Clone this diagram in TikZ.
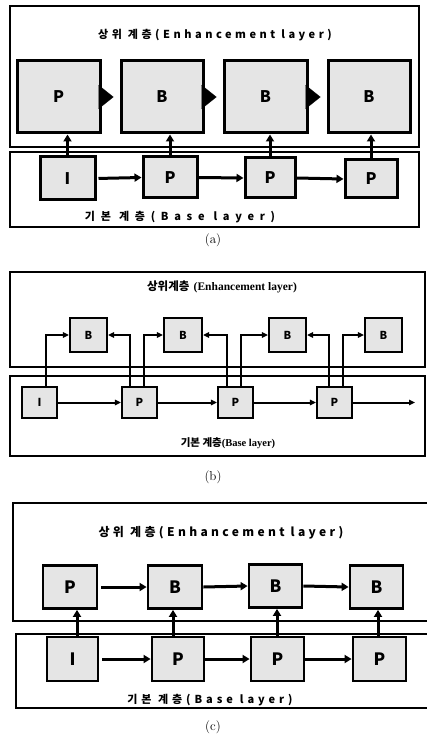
\documentclass[tikz,border=0pt]{standalone}
\usepackage{fontspec}
\newfontfamily\kr{Noto Sans CJK KR}
\newfontfamily\serb{Liberation Serif}
\usetikzlibrary{arrows.meta,calc}
\tikzset{
  frame/.style={draw, line width=1.4pt},
  boxa/.style={draw, line width=3pt, fill=gray!20, inner sep=0pt, font=\kr\bfseries\fontsize{16}{16}\selectfont},
  boxb/.style={draw, line width=2.2pt, fill=gray!20, inner sep=0pt, font=\kr\bfseries\fontsize{11}{11}\selectfont},
  boxc/.style={draw, line width=2.8pt, fill=gray!20, inner sep=0pt, font=\kr\bfseries\fontsize{17}{17}\selectfont},
  arr/.style={line width=3pt, -{Triangle[length=7pt,width=8pt]}},
  arrb/.style={line width=2pt, -{Triangle[length=6pt,width=5.5pt]}},
  bigtri/.style={line width=0.1pt, -{Triangle[length=15pt,width=24pt]}, shorten >=6pt},
  captext/.style={font=\fontsize{13}{13}\selectfont},
}
\begin{document}
\begin{tikzpicture}[x=1pt,y=-1pt]
\useasboundingbox (0,0) rectangle (426,743);
\fill[white] (0,0) rectangle (426,743);

% ---------- (a) ----------
\draw[frame] (10,6) rectangle (419,147);
\draw[frame] (10,152) rectangle (419,227);
\node[font=\kr\bfseries\fontsize{11}{11}\selectfont\addfontfeature{LetterSpace=32}] (ta) at (215,35) {상위 계층(Enhancement layer)};
\node[boxa, minimum width=83, minimum height=72] (ua1) at (58.5,97) {P};
\node[boxa, minimum width=82, minimum height=72] (ua2) at (162,97) {B};
\node[boxa, minimum width=83, minimum height=72] (ua3) at (265.5,97) {B};
\node[boxa, minimum width=82, minimum height=72] (ua4) at (369,97) {B};
\node[boxa, minimum width=55, minimum height=43] (la0) at (67.5,178.5) {I};
\node[boxa, minimum width=54, minimum height=41] (la1) at (170,177.5) {P};
\node[boxa, minimum width=50, minimum height=40] (la2) at (270,178) {P};
\node[boxa, minimum width=52, minimum height=38] (la3) at (371,179) {P};
\draw[bigtri] (ua1.east) -- (ua2.west);
\draw[bigtri] (ua2.east) -- (ua3.west);
\draw[bigtri] (ua3.east) -- (ua4.west);
\draw[arr] (la0.north) -- (la0.north |- ua1.south);
\draw[arr] (la1.north) -- (la1.north |- ua2.south);
\draw[arr] (la2.north) -- (la2.north |- ua3.south);
\draw[arr] (la3.north) -- (la3.north |- ua4.south);
\draw[arr, shorten <=2pt] (la0.east) -- (la1.west);
\draw[arr] (la1.east) -- (la2.west);
\draw[arr] (la2.east) -- (la3.west);
\node[font=\kr\bfseries\fontsize{11}{11}\selectfont\addfontfeature{LetterSpace=52}] (ba) at (180,217) {기본 계층(Base\kern9pt layer)};
\node[captext] (capa) at (213,240) {(a)};

% ---------- (b) ----------
\draw[frame] (10,272) rectangle (425,367);
\draw[frame] (10,376) rectangle (425,456);
\node[font=\fontsize{11.5}{11.5}\selectfont\bfseries] (tb) at (222,287) {{\kr 상위계층} {\serb\bfseries (Enhancement layer)}};
\node[boxb, minimum width=37, minimum height=34] (ub1) at (88.5,335) {B};
\node[boxb, minimum width=38, minimum height=34] (ub2) at (183,335) {B};
\node[boxb, minimum width=37, minimum height=34] (ub3) at (287.5,335) {B};
\node[boxb, minimum width=37, minimum height=34] (ub4) at (383.5,335) {B};
\node[boxb, minimum width=35, minimum height=31] (lb0) at (39.5,402.5) {I};
\node[boxb, minimum width=35, minimum height=31] (lb1) at (139.5,402.5) {P};
\node[boxb, minimum width=35, minimum height=31] (lb2) at (235.5,402.5) {P};
\node[boxb, minimum width=35, minimum height=31] (lb3) at (334.5,402.5) {P};
\coordinate (endb) at (415,402.5);
\draw[arrb] (lb0.east) -- (lb1.west);
\draw[arrb] (lb1.east) -- (lb2.west);
\draw[arrb] (lb2.east) -- (lb3.west);
\draw[arrb] (lb3.east) -- (endb);
\draw[arrb] ([xshift=6.5pt]lb0.north) |- (ub1.west);
\draw[arrb] ([xshift=-9.5pt]lb1.north) |- (ub1.east);
\draw[arrb] ([xshift=4.5pt]lb1.north) |- (ub2.west);
\draw[arrb] ([xshift=-8.5pt]lb2.north) |- (ub2.east);
\draw[arrb] ([xshift=5.5pt]lb2.north) |- (ub3.west);
\draw[arrb] ([xshift=-5.5pt]lb3.north) |- (ub3.east);
\draw[arrb] ([xshift=8.5pt]lb3.north) |- (ub4.west);
\node[font=\fontsize{10.5}{10.5}\selectfont] (bb) at (228,443) {{\kr\bfseries 기본 계층}{\serb\bfseries (Base layer)}};
\node[captext] (capb) at (213,477) {(b)};

% ---------- (c) ----------
\draw[frame] (13,503) rectangle (440,621);
\draw[frame] (16,634) rectangle (440,708);
\node[font=\kr\bfseries\fontsize{12}{12}\selectfont\addfontfeature{LetterSpace=28}] (tc) at (221,533) {상위 계층(Enhancement layer)};
\node[boxc, minimum width=54, minimum height=43] (uc1) at (70,587) {P};
\node[boxc, minimum width=54, minimum height=43] (uc2) at (175,587) {B};
\node[boxc, minimum width=53, minimum height=43] (uc3) at (275.5,586) {B};
\node[boxc, minimum width=53, minimum height=43] (uc4) at (376.5,587) {B};
\node[boxc, minimum width=51, minimum height=44] (lc0) at (72.5,659) {I};
\node[boxc, minimum width=52, minimum height=44] (lc1) at (178,659) {P};
\node[boxc, minimum width=53, minimum height=44] (lc2) at (277.5,659) {P};
\node[boxc, minimum width=53, minimum height=44] (lc3) at (379.5,659) {P};
\draw[arr, shorten <=3pt] (uc1.east) -- (uc2.west);
\draw[arr] (uc2.east) -- (uc3.west);
\draw[arr] (uc3.east) -- (uc4.west);
\draw[arr, shorten <=3pt] (lc0.east) -- (lc1.west);
\draw[arr] (lc1.east) -- (lc2.west);
\draw[arr] (lc2.east) -- (lc3.west);
\draw[arr] ([xshift=4.5pt]lc0.north) -- ([xshift=4.5pt]lc0.north |- uc1.south);
\draw[arr] ([xshift=-5pt]lc1.north) -- ([xshift=-5pt]lc1.north |- uc2.south);
\draw[arr] ([xshift=-0.5pt]lc2.north) -- ([xshift=-0.5pt]lc2.north |- uc3.south);
\draw[arr] ([xshift=-1.5pt]lc3.north) -- ([xshift=-1.5pt]lc3.north |- uc4.south);
\node[font=\kr\bfseries\fontsize{11}{11}\selectfont\addfontfeature{LetterSpace=36}] (bc) at (210,700) {기본 계층(Base\kern7pt layer)};
\node[captext] (capc) at (213,727) {(c)};
\end{tikzpicture}
\end{document}
